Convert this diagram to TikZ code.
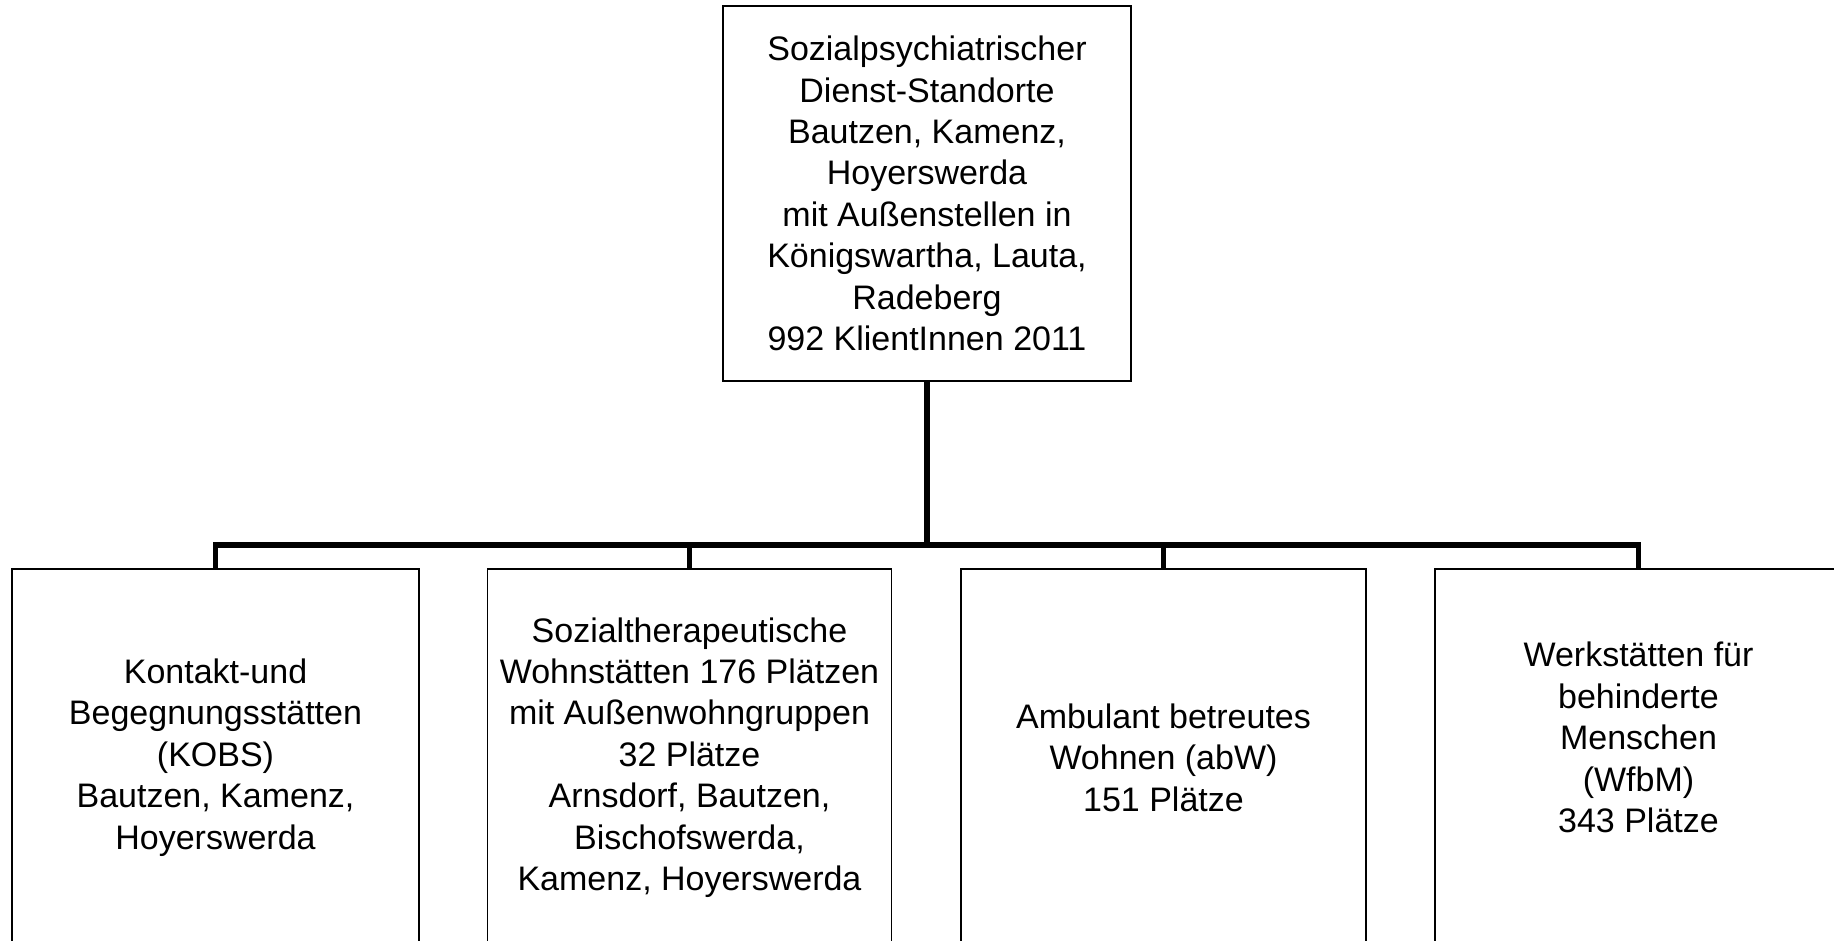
\documentclass[tikz,border=0pt]{standalone}
\usepackage{fontspec}
\setmainfont{Liberation Sans}
\begin{document}
\begin{tikzpicture}[x=1pt,y=-1pt,
  box/.style={draw=black,line width=1.5pt,fill=white,inner sep=0pt,align=center,
    font=\fontsize{34}{41.4}\selectfont},
  txt/.style={inner sep=0pt,align=center,font=\fontsize{34}{41.4}\selectfont},
  conn/.style={draw=black,line width=5.5pt,line join=miter}]
\useasboundingbox (0,0) rectangle (1834,941);
\node[box,minimum width=408pt,minimum height=375pt] (top) at (927,193.5)
 {Sozialpsychiatrischer\\Dienst-Standorte\\Bautzen, Kamenz,\\Hoyerswerda\\mit Außenstellen in\\Königswartha, Lauta,\\Radeberg\\992 KlientInnen 2011};
\node[box,minimum width=407pt,minimum height=377pt] (b1) at (215.5,757.5)
 {Kontakt-und\\Begegnungsstätten\\(KOBS)\\Bautzen, Kamenz,\\Hoyerswerda};
\node[box,minimum width=404pt,minimum height=377pt] (b2) at (689.5,757.5)
 {Sozialtherapeutische\\Wohnstätten 176 Plätzen\\mit Außenwohngruppen\\32 Plätze\\Arnsdorf, Bautzen,\\Bischofswerda,\\Kamenz, Hoyerswerda};
\node[box,minimum width=405pt,minimum height=377pt] (b3) at (1163.5,757.5)
 {Ambulant betreutes\\Wohnen (abW)\\151 Plätze};
\node[box,minimum width=407pt,minimum height=377pt] (b4) at (1638.5,757.5) {};
\node[txt] (b4t) at (1638.5,737.5)
 {Werkstätten für\\behinderte\\Menschen\\(WfbM)\\343 Plätze};
\coordinate (bar) at (927,545);
\draw[conn] (top.south) -- (top.south |- bar);
\draw[conn] (b1.north) -- (b1.north |- bar) -- (b4.north |- bar) -- (b4.north);
\draw[conn] (b2.north) -- (b2.north |- bar);
\draw[conn] (b3.north) -- (b3.north |- bar);
\end{tikzpicture}
\end{document}
